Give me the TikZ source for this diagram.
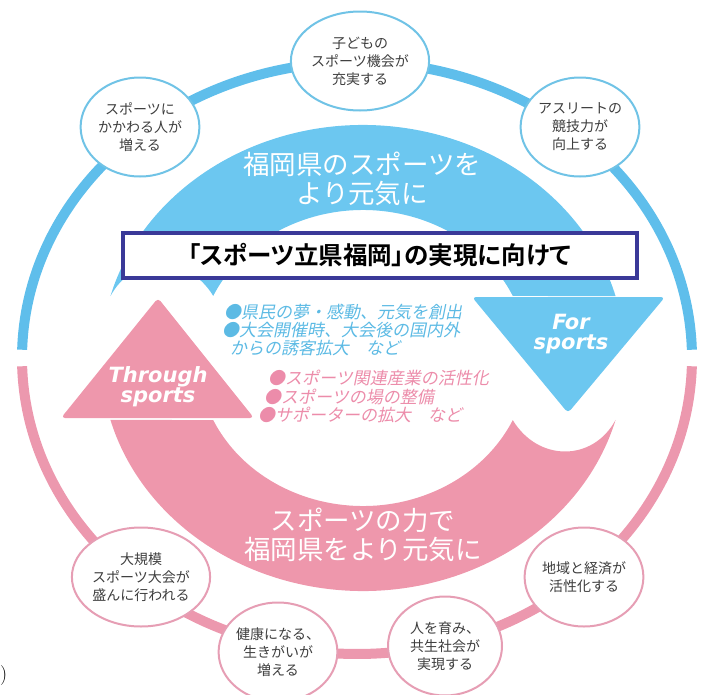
\documentclass[tikz,border=0pt]{standalone}
\usepackage{fontspec}
\usetikzlibrary{shapes.geometric}
\newfontfamily\jpfont{Noto Sans CJK JP}[BoldFont={Noto Sans CJK JP Bold}]
\newfontfamily\jptitle{Noto Sans CJK JP Bold}[RawFeature=+palt]
\newfontfamily\jpslant{Noto Sans CJK JP}[FakeSlant=0.2]
\newfontfamily\enfont{DejaVu Sans}
\definecolor{bandblue}{RGB}{108,199,240}
\definecolor{bandpink}{RGB}{238,151,172}
\definecolor{ringblue}{RGB}{95,190,235}
\definecolor{ringpink}{RGB}{236,152,174}
\definecolor{rimblue}{RGB}{112,195,230}
\definecolor{rimpink}{RGB}{230,158,180}
\definecolor{boxindigo}{RGB}{58,57,152}
\definecolor{txtgray}{RGB}{62,62,62}
\definecolor{dotblue}{RGB}{92,186,228}
\definecolor{dotpink}{RGB}{236,140,170}

\tikzset{
  goal/.style={ellipse, fill=white, line width=2pt, minimum width=114pt, minimum height=99pt,
    inner sep=0pt, align=center, text=txtgray, font=\jpfont\fontsize{14}{18}\selectfont},
  goalblue/.style={goal, draw=rimblue},
  goalpink/.style={goal, draw=rimpink},
  bigtext/.style={text=white, align=center, font=\jpfont\fontsize{26.5}{28.5}\selectfont},
  engtext/.style={text=white, align=center, inner sep=0pt, font=\enfont\bfseries\itshape\fontsize{21}{20}\selectfont},
  dotline/.style={anchor=west, inner sep=0pt, font=\jpslant\fontsize{17}{20}\selectfont},
}

\begin{document}
\begin{tikzpicture}[x=1pt,y=-1pt]
  \useasboundingbox (0,0) rectangle (702,694);
  % outer ring
  \begin{scope}[shift={(357,358)}]
    \draw [ringblue, line width=10pt] (181.6:335 and 296) arc [start angle=181.6, end angle=358.4, x radius=335, y radius=296];
    \draw [ringpink, line width=10pt] (1.6:335 and 296) arc [start angle=1.6, end angle=178.4, x radius=335, y radius=296];
  \end{scope}
  % the two turning arrows
  \begin{scope}[shift={(363,358)}]
    \fill [bandblue] (195.4:262 and 233) arc [start angle=195.4, end angle=344.6, x radius=262, y radius=233]
      -- (335.2:165 and 148) arc [start angle=335.2, end angle=204.8, x radius=165, y radius=148]
      .. controls (-175,-104) and (-230,-104) .. cycle;
    \fill [bandblue, rounded corners=4pt] (109,-61) -- (302,-61) -- (205,55) -- cycle;
    \fill [bandpink] (15.4:262 and 233) arc [start angle=15.4, end angle=164.6, x radius=262, y radius=233]
      -- (155.2:165 and 148) arc [start angle=155.2, end angle=24.8, x radius=165, y radius=148]
      .. controls (175,104) and (230,104) .. cycle;
    \fill [bandpink, rounded corners=4pt] (-302,60) -- (-109,60) -- (-205,-60) -- cycle;
  \end{scope}

  \node [bigtext] (forpref) at (362,179) {福岡県のスポーツを\\より元気に};
  \node [bigtext] (bypref) at (363,535) {スポーツの力で\\福岡県をより元気に};
  \node [engtext] (forsp) at (571,334) {For\\sports};
  \node [engtext] (thrsp) at (158,387) {Through\\sports};

  \node [dotline, text=dotblue] (fora) at (224,312) {●県民の夢・感動、元気を創出};
  \node [dotline, text=dotblue] (forb) at (222,330) {●大会開催時、大会後の国内外};
  \node [dotline, text=dotblue] (forc) at (230,348) {からの誘客拡大　など};
  \node [dotline, text=dotpink] (bya) at (268,378) {●スポーツ関連産業の活性化};
  \node [dotline, text=dotpink] (byb) at (264,397) {●スポーツの場の整備};
  \node [dotline, text=dotpink] (byc) at (258,415) {●サポーターの拡大　など};

  \node [draw=boxindigo, line width=4pt, fill=white, minimum width=514pt, minimum height=45pt, inner sep=0pt,
    font=\jptitle\fontsize{24.5}{24.5}\selectfont] (title) at (379.5,255) {「スポーツ立県福岡」の実現に向けて};

  \node [goalblue] (kids) at (360,61) {子どもの\\スポーツ機会が\\充実する};
  \node [goalblue] (people) at (140,127) {スポーツに\\かかわる人が\\増える};
  \node [goalblue] (athlete) at (580,127) {アスリートの\\競技力が\\向上する};
  \node [goalpink] (events) at (141,577) {大規模\\スポーツ大会が\\盛んに行われる};
  \node [goalpink] (health) at (278,652) {健康になる、\\生きがいが\\増える};
  \node [goalpink] (society) at (445,646) {人を育み、\\共生社会が\\実現する};
  \node [goalpink] (economy) at (584,577) {地域と経済が\\活性化する};

  \node [anchor=west, inner sep=0pt, font=\fontsize{20}{20}\selectfont] (cut) at (0,676) {)};
\end{tikzpicture}
\end{document}
